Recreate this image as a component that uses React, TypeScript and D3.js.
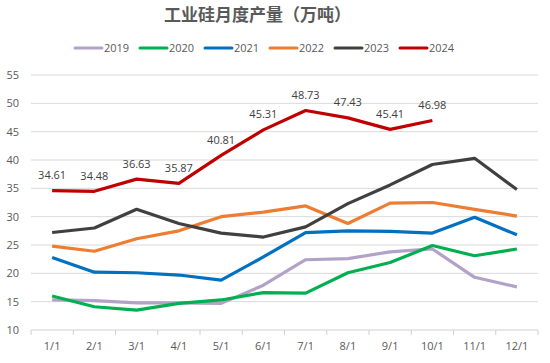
import React from "react";
import * as d3 from "d3";

const months = ["1/1", "2/1", "3/1", "4/1", "5/1", "6/1", "7/1", "8/1", "9/1", "10/1", "11/1", "12/1"];
const yTicks = [10, 15, 20, 25, 30, 35, 40, 45, 50, 55];
const s2019 = [15.3, 15.2, 14.8, 14.8, 14.7, 17.9, 22.4, 22.6, 23.8, 24.3, 19.3, 17.6];
const s2020 = [16.0, 14.1, 13.5, 14.7, 15.3, 16.6, 16.5, 20.1, 21.9, 24.9, 23.1, 24.3];
const s2021 = [22.8, 20.2, 20.1, 19.7, 18.8, 22.9, 27.2, 27.5, 27.4, 27.1, 29.9, 26.8];
const s2022 = [24.8, 23.9, 26.1, 27.5, 30.0, 30.8, 31.9, 28.8, 32.4, 32.5, 31.3, 30.1];
const s2023 = [27.2, 28.0, 31.3, 28.8, 27.1, 26.4, 28.2, 32.3, 35.6, 39.2, 40.3, 34.8];
const s2024 = [34.61, 34.48, 36.63, 35.87, 40.81, 45.31, 48.73, 47.43, 45.41, 46.98];
const seriesNames = ["2019", "2020", "2021", "2022", "2023", "2024"];
const seriesColors = ["#B3A2C7", "#00B050", "#0070C0", "#ED7D31", "#404040", "#C00000"];

const W = 550, H = 363;
const left = 31, right = 538, top = 75, bottom = 330;

export default function App() {
  const all = [s2019, s2020, s2021, s2022, s2023, s2024];
  const x = d3.scaleBand<string>().domain(months).range([left, right]);
  const y = d3.scaleLinear().domain([10, 55]).range([bottom, top]);
  const cx = (i: number) => (x(months[i]) as number) + x.bandwidth() / 2;
  const line = d3.line<number>().x((_, i) => cx(i)).y((d) => y(d));
  const font = "'Open Sans', 'Noto Sans', sans-serif";
  const boundaries = d3.range(months.length + 1).map((i) => left + i * x.step());
  return (
    <svg width={W} height={H} style={{ position: "absolute", left: 0, top: 0, background: "#fff" }}>
      <text x={257.5} y={21} textAnchor="middle" fontFamily="'Noto Sans CJK SC', sans-serif" fontWeight="bold" fontSize={17} fill="#595959">
        工业硅月度产量（万吨）
      </text>
      {seriesNames.map((n, i) => (
        <g key={n} transform={`translate(${75 + i * 65},48)`}>
          <line x1={0} x2={27} y1={0} y2={0} stroke={seriesColors[i]} strokeWidth={3} strokeLinecap="round" />
          <text x={29} y={4} fontFamily={font} fontSize={11} fill="#595959">{n}</text>
        </g>
      ))}
      {yTicks.map((t) => (
        <g key={t}>
          <line x1={left} x2={right} y1={y(t)} y2={y(t)} stroke={t === 10 ? "#D0D0D0" : "#D9D9D9"} strokeWidth={1} />
          <text x={19} y={y(t) + 4} textAnchor="end" fontFamily={font} fontSize={11} fill="#595959">{t}</text>
        </g>
      ))}
      {boundaries.map((b, i) => (
        <line key={i} x1={b} x2={b} y1={bottom} y2={bottom + 5} stroke="#D0D0D0" strokeWidth={1} />
      ))}
      {months.map((m, i) => (
        <text key={m} x={cx(i)} y={350} textAnchor="middle" fontFamily={font} fontSize={11} fill="#595959">{m}</text>
      ))}
      {all.map((s, i) => (
        <path key={i} d={line(s) || ""} fill="none" stroke={seriesColors[i]} strokeWidth={3.2} strokeLinejoin="round" />
      ))}
      {s2024.map((v, i) => (
        <text key={i} x={cx(i)} y={y(v) - 11.5} textAnchor="middle" fontFamily={font} fontSize={11} fill="#404040">{v.toFixed(2)}</text>
      ))}
    </svg>
  );
}
